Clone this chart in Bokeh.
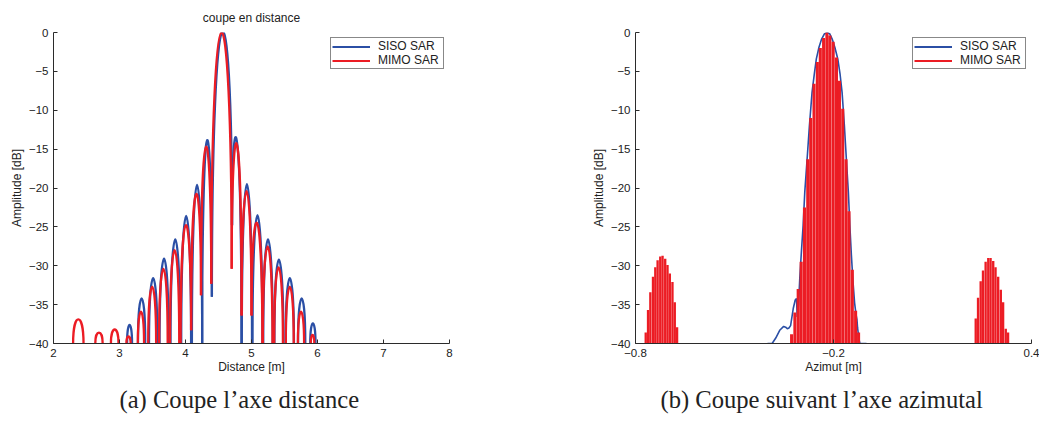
from bokeh.plotting import figure
from bokeh.models import (Range1d, FixedTicker, CustomJSTickFormatter, Legend,
                          LegendItem, Title, ColumnDataSource)
from bokeh.layouts import row
from bokeh.embed import file_html
from bokeh.resources import INLINE

BLUE = "#2b4fa5"
RED = "#ec1c24"
AXC = "#2b2b2b"
TXT = "#222222"
SANS = "Liberation Sans"
SERIF = "Liberation Serif"
NAN = float("nan")

# ---------------- (a) range cut: lobes of each curve ----------------
# each lobe: left foot x, right foot x, foot levels (dB) and peak level (dB)
siso_x0 = [3.115, 3.280, 3.447, 3.607, 3.773, 3.935, 4.097, 4.252, 4.400, 4.705,
           4.853, 5.015, 5.178, 5.347, 5.518, 5.705, 5.890]
siso_x1 = [3.190, 3.390, 3.573, 3.743, 3.917, 4.085, 4.253, 4.400, 4.705, 4.848,
           5.008, 5.166, 5.322, 5.483, 5.643, 5.815, 5.970]
siso_y0 = [-40, -40, -40, -40, -40, -40, -40, -40, -34.0, -24.8,
           -40, -40, -40, -40, -40, -40, -40]
siso_y1 = [-40, -40, -40, -40, -40, -40, -40, -34.0, -24.8, -40,
           -40, -40, -40, -40, -40, -40, -40]
siso_peak = [-37.6, -34.2, -31.6, -29.1, -26.6, -23.6, -19.6, -13.9, 0.0, -13.9,
             -19.5, -23.5, -26.6, -29.2, -31.6, -34.2, -37.4]

mimo_x0 = [2.297, 2.633, 2.870, 3.104, 3.278, 3.435, 3.600, 3.765, 3.926, 4.085,
           4.235, 4.390, 4.700, 4.850, 5.000, 5.172, 5.344, 5.520, 5.703, 5.898]
mimo_x1 = [2.455, 2.745, 2.985, 3.169, 3.372, 3.555, 3.730, 3.905, 4.085, 4.235,
           4.390, 4.700, 4.850, 5.000, 5.165, 5.318, 5.476, 5.640, 5.797, 5.952]
mimo_y0 = [-40, -40, -40, -40, -40, -40, -40, -40, -40, -38.3,
           -33.8, -32.3, -30.4, -36.4, -36.4, -40, -40, -40, -40, -40]
mimo_y1 = [-40, -40, -40, -40, -40, -40, -40, -40, -38.3, -33.8,
           -32.3, -30.4, -36.4, -36.4, -40, -40, -40, -40, -40, -40]
mimo_peak = [-36.9, -38.6, -38.2, -39.1, -35.9, -32.7, -30.4, -28.0, -24.8, -20.8,
             -14.7, 0.0, -14.3, -20.4, -24.5, -27.5, -30.2, -32.7, -35.9, -38.9]

# ---------------- (b) azimuth cut ----------------
siso_az = [-0.400, -0.386, -0.375, -0.363, -0.351, -0.345, -0.340, -0.335, -0.330,
           -0.322, -0.316, -0.312, -0.310, -0.306, -0.302, -0.297, -0.292, -0.287,
           -0.280, -0.273, -0.265, -0.258, -0.252, -0.244, -0.236, -0.228, -0.219,
           -0.211, -0.204, -0.196, -0.187, -0.180, -0.174, -0.167, -0.161, -0.155,
           -0.1505, -0.146, -0.141, -0.136, -0.132, -0.129, -0.127, -0.123, -0.120,
           -0.100]
siso_az_db = [-40.0, -40.0, -39.3, -38.3, -37.8, -37.9, -38.1, -38.0, -37.7,
              -35.5, -34.4, -34.2, -36.6, -35.0, -31.5, -28.0, -24.8, -20.5,
              -16.3, -12.0, -7.7, -5.3, -3.4, -1.9, -0.85, -0.2, 0.0,
              -0.2, -0.85, -1.9, -3.4, -5.4, -7.7, -12.0, -16.3, -20.5,
              -24.8, -28.5, -32.0, -34.8, -36.2, -36.9, -38.0, -39.4, -40.0,
              -40.0]

mimo_main_az = [-0.327, -0.317, -0.307, -0.298, -0.288, -0.278, -0.269, -0.259,
                -0.249, -0.240, -0.230, -0.220, -0.211, -0.201, -0.191, -0.182,
                -0.172, -0.162, -0.153, -0.143, -0.133, -0.124]
mimo_main_db = [-38.8, -36.0, -33.0, -29.5, -22.5, -16.3, -11.0, -6.6,
                -3.8, -2.0, -0.7, 0.0, -0.4, -1.2, -3.2, -6.2,
                -9.8, -16.3, -23.0, -30.5, -35.8, -38.6]
mimo_gl_left_az = [-0.769, -0.762, -0.755, -0.747, -0.740, -0.733, -0.725,
                   -0.718, -0.710, -0.703, -0.696, -0.688, -0.681, -0.674]
mimo_gl_left_db = [-38.6, -35.7, -33.4, -31.4, -30.2, -29.3, -28.8,
                   -28.7, -29.1, -29.9, -31.0, -32.1, -34.7, -37.9]
mimo_gl_right_az = [0.231, 0.238, 0.246, 0.253, 0.261, 0.269, 0.276,
                    0.284, 0.291, 0.299, 0.307, 0.314, 0.322, 0.329]
mimo_gl_right_db = [-36.8, -34.1, -32.0, -30.6, -29.5, -29.0, -29.0,
                    -29.4, -30.2, -31.4, -33.1, -34.7, -38.1, -38.6]

dist_ticks = [2, 3, 4, 5, 6, 7, 8]
az_ticks = [-0.8, -0.2, 0.4]
db_ticks = [-40, -35, -30, -25, -20, -15, -10, -5, 0]

FLOOR = -40


def lobe_source(x0, x1, y0, y1, peak):
    # cubic Bezier per lobe: vertical tangents at the feet, apex at the read peak
    c = [(pk - 0.125 * (a + b)) / 0.75 for pk, a, b in zip(peak, y0, y1)]
    return ColumnDataSource(dict(x0=x0, x1=x1, y0=y0, y1=y1,
                                 cx0=x0, cx1=x1, cy0=c, cy1=c))


def style(p, xticks):
    p.xaxis.ticker = FixedTicker(ticks=xticks)
    p.yaxis.ticker = FixedTicker(ticks=db_ticks)
    fmt = CustomJSTickFormatter(
        code="return (tick < 0 ? '\\u2212' : '') + String(Math.abs(tick));")
    for ax in (p.xaxis[0], p.yaxis[0]):
        ax.formatter = fmt
        ax.major_tick_in = 4
        ax.major_tick_out = 0
        ax.minor_tick_in = 0
        ax.minor_tick_out = 0
        ax.axis_line_color = AXC
        ax.axis_line_width = 1
        ax.major_tick_line_color = AXC
        ax.major_label_text_font = SANS
        ax.major_label_text_font_size = "11.5px"
        ax.major_label_text_color = TXT
        ax.axis_label_text_font = SANS
        ax.axis_label_text_font_size = "12px"
        ax.axis_label_text_font_style = "normal"
        ax.axis_label_text_color = TXT
        ax.major_label_standoff = 5
    p.xaxis[0].axis_label_standoff = 0
    p.yaxis[0].axis_label_standoff = 2
    p.xgrid.visible = False
    p.ygrid.visible = False
    p.outline_line_color = None
    p.background_fill_color = "white"
    p.border_fill_color = "white"


def add_legend(p):
    r1 = p.line([NAN], [NAN], line_color=BLUE, line_width=2)
    r2 = p.line([NAN], [NAN], line_color=RED, line_width=2)
    leg = Legend(items=[LegendItem(label="SISO SAR", renderers=[r1]),
                        LegendItem(label="MIMO SAR", renderers=[r2])],
                 location="top_right", margin=5, padding=1, spacing=0,
                 glyph_width=38, glyph_height=13, label_height=13,
                 label_width=64, label_standoff=8, label_text_font=SANS,
                 label_text_font_size="12px", label_text_color=TXT,
                 border_line_color="#111111", border_line_width=1.3,
                 background_fill_color="white", background_fill_alpha=1.0)
    p.add_layout(leg)


def add_caption(p, text, offset):
    p.add_layout(Title(text=text, align="left", offset=offset,
                       text_font=SERIF, text_font_size="24.6px",
                       text_font_style="normal", text_color=TXT,
                       standoff=14), "below")


# ---------------- figure (a) ----------------
p1 = figure(frame_width=396, frame_height=311,
            x_range=Range1d(2, 8), y_range=Range1d(-40, 0),
            output_backend="svg", toolbar_location=None,
            min_border_left=53, min_border_right=60,
            min_border_top=32, min_border_bottom=80)
p1.title.text = "coupe en distance"
p1.title.align = "center"
p1.title.text_font = SANS
p1.title.text_font_size = "12px"
p1.title.text_font_style = "normal"
p1.title.text_color = TXT
p1.title.standoff = 16
style(p1, dist_ticks)
p1.xaxis.axis_label = "Distance [m]"
p1.yaxis.axis_label = "Amplitude [dB]"

p1.bezier(x0="x0", y0="y0", x1="x1", y1="y1", cx0="cx0", cy0="cy0",
          cx1="cx1", cy1="cy1",
          source=lobe_source(siso_x0, siso_x1, siso_y0, siso_y1, siso_peak),
          line_color=BLUE, line_width=2.3)
p1.bezier(x0="x0", y0="y0", x1="x1", y1="y1", cx0="cx0", cy0="cy0",
          cx1="cx1", cy1="cy1",
          source=lobe_source(mimo_x0, mimo_x1, mimo_y0, mimo_y1, mimo_peak),
          line_color=RED, line_width=2.3)
add_legend(p1)
add_caption(p1, "(a) Coupe l\u2019axe distance", 66)

# ---------------- figure (b) ----------------
p2 = figure(frame_width=396, frame_height=311,
            x_range=Range1d(-0.8, 0.4), y_range=Range1d(-40, 0),
            output_backend="svg", toolbar_location=None,
            min_border_left=126, min_border_right=8,
            min_border_top=32, min_border_bottom=80)
style(p2, az_ticks)
p2.xaxis.axis_label = "Azimut [m]"
p2.yaxis.axis_label = "Amplitude [dB]"

p2.line(siso_az, siso_az_db, line_color=BLUE, line_width=1.6)
p2.vbar(x=mimo_main_az, top=mimo_main_db, bottom=FLOOR, width=0.0093,
        fill_color=RED, line_color=None)
p2.vbar(x=mimo_gl_left_az, top=mimo_gl_left_db, bottom=FLOOR, width=0.0071,
        fill_color=RED, line_color=None)
p2.vbar(x=mimo_gl_right_az, top=mimo_gl_right_db, bottom=FLOOR, width=0.0071,
        fill_color=RED, line_color=None)
add_legend(p2)
add_caption(p2, "(b) Coupe suivant l\u2019axe azimutal", 25)

layout = row(p1, p2)
open("out.html", "w").write(file_html(layout, INLINE))
